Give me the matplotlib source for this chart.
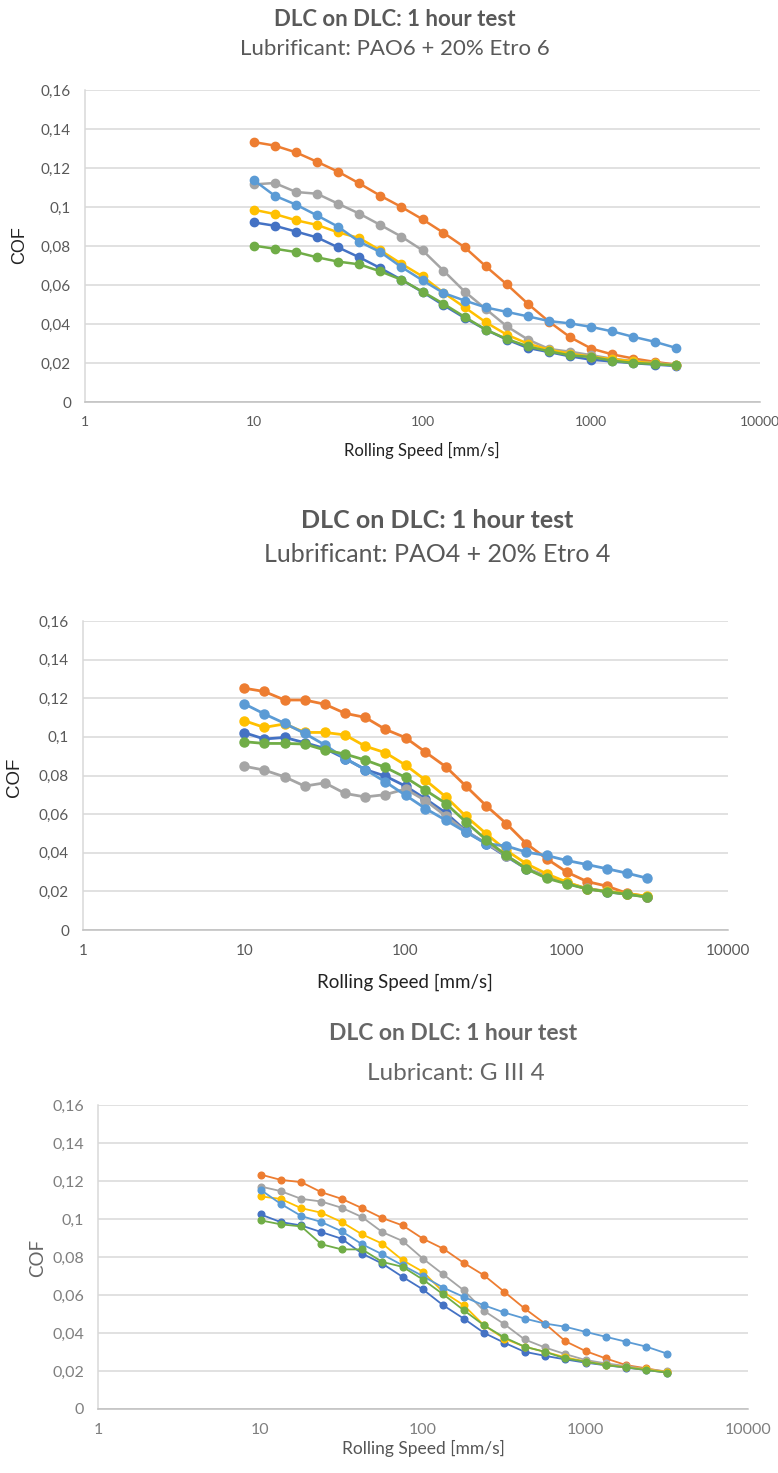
import matplotlib.pyplot as plt
from matplotlib.ticker import FixedLocator, FuncFormatter, NullLocator

# rolling speed [mm/s], same steps in all three tests
speed = [10, 13.3, 17.8, 23.7, 31.6, 42.2, 56.2, 75.0, 100, 133, 178, 237,
         316, 422, 562, 750, 1000, 1334, 1778, 2371, 3162]

# PAO6 + 20% Etro 6
pao6_s1 = [0.0921, 0.0904, 0.0874, 0.0844, 0.0793, 0.0742, 0.0687, 0.0627, 0.0564, 0.0497, 0.0431,
           0.0371, 0.0320, 0.0277, 0.0256, 0.0234, 0.0217, 0.0208, 0.0199, 0.0192, 0.0185]
pao6_s2 = [0.1333, 0.1315, 0.1280, 0.1232, 0.1181, 0.1121, 0.1058, 0.1000, 0.0937, 0.0868, 0.0793,
           0.0696, 0.0603, 0.0503, 0.0412, 0.0332, 0.0274, 0.0244, 0.0223, 0.0206, 0.0192]
pao6_s3 = [0.1116, 0.1123, 0.1077, 0.1068, 0.1017, 0.0966, 0.0908, 0.0848, 0.0778, 0.0674, 0.0566,
           0.0477, 0.0388, 0.0320, 0.0272, 0.0258, 0.0240, 0.0222, 0.0210, 0.0200, 0.0190]
pao6_s4 = [0.0986, 0.0964, 0.0932, 0.0908, 0.0870, 0.0841, 0.0778, 0.0709, 0.0644, 0.0561, 0.0485,
           0.0409, 0.0345, 0.0299, 0.0268, 0.0248, 0.0232, 0.0220, 0.0208, 0.0198, 0.0188]
pao6_s5 = [0.1138, 0.1058, 0.1012, 0.0957, 0.0899, 0.0822, 0.0769, 0.0692, 0.0624, 0.0559, 0.0520,
           0.0485, 0.0462, 0.0439, 0.0415, 0.0403, 0.0385, 0.0362, 0.0334, 0.0309, 0.0278]
pao6_s6 = [0.0802, 0.0786, 0.0769, 0.0742, 0.0720, 0.0706, 0.0670, 0.0627, 0.0566, 0.0504, 0.0436,
           0.0371, 0.0323, 0.0285, 0.0260, 0.0239, 0.0231, 0.0212, 0.0200, 0.0195, 0.0188]

# PAO4 + 20% Etro 4
pao4_s1 = [0.1022, 0.0989, 0.0997, 0.0970, 0.0940, 0.0888, 0.0831, 0.0797, 0.0745, 0.0679, 0.0606,
           0.0513, 0.0447, 0.0381, 0.0317, 0.0274, 0.0242, 0.0213, 0.0198, 0.0185, 0.0172]
pao4_s2 = [0.1252, 0.1235, 0.1191, 0.1191, 0.1169, 0.1122, 0.1101, 0.1039, 0.0996, 0.0921, 0.0845,
           0.0745, 0.0644, 0.0551, 0.0447, 0.0369, 0.0300, 0.0251, 0.0227, 0.0190, 0.0173]
pao4_s3 = [0.0848, 0.0828, 0.0793, 0.0745, 0.0762, 0.0707, 0.0689, 0.0701, 0.0730, 0.0670, 0.0590,
           0.0510, 0.0450, 0.0385, 0.0320, 0.0278, 0.0245, 0.0215, 0.0200, 0.0186, 0.0172]
pao4_s4 = [0.1084, 0.1049, 0.1067, 0.1023, 0.1023, 0.1010, 0.0952, 0.0918, 0.0854, 0.0776, 0.0689,
           0.0589, 0.0499, 0.0412, 0.0343, 0.0291, 0.0248, 0.0213, 0.0200, 0.0188, 0.0175]
pao4_s5 = [0.1171, 0.1119, 0.1070, 0.1018, 0.0958, 0.0888, 0.0831, 0.0767, 0.0698, 0.0629, 0.0568,
           0.0507, 0.0447, 0.0435, 0.0403, 0.0386, 0.0360, 0.0339, 0.0317, 0.0294, 0.0268]
pao4_s6 = [0.0975, 0.0966, 0.0966, 0.0963, 0.0932, 0.0911, 0.0880, 0.0842, 0.0790, 0.0724, 0.0655,
           0.0559, 0.0468, 0.0386, 0.0317, 0.0268, 0.0239, 0.0213, 0.0198, 0.0185, 0.0170]

# G III 4
g3_s1 = [0.1024, 0.0984, 0.0966, 0.0931, 0.0896, 0.0818, 0.0765, 0.0695, 0.0629, 0.0546, 0.0476,
         0.0401, 0.0349, 0.0301, 0.0280, 0.0261, 0.0244, 0.0230, 0.0218, 0.0205, 0.0192]
g3_s2 = [0.1234, 0.1206, 0.1194, 0.1141, 0.1106, 0.1057, 0.1005, 0.0966, 0.0896, 0.0844, 0.0769,
         0.0704, 0.0617, 0.0529, 0.0450, 0.0357, 0.0305, 0.0266, 0.0231, 0.0214, 0.0195]
g3_s3 = [0.1171, 0.1147, 0.1106, 0.1092, 0.1059, 0.1010, 0.0931, 0.0884, 0.0791, 0.0709, 0.0625,
         0.0517, 0.0447, 0.0366, 0.0324, 0.0289, 0.0258, 0.0240, 0.0226, 0.0210, 0.0198]
g3_s4 = [0.1119, 0.1106, 0.1057, 0.1033, 0.0984, 0.0919, 0.0870, 0.0783, 0.0722, 0.0616, 0.0546,
         0.0441, 0.0371, 0.0328, 0.0301, 0.0272, 0.0250, 0.0232, 0.0220, 0.0208, 0.0195]
g3_s5 = [0.1154, 0.1080, 0.1016, 0.0984, 0.0935, 0.0867, 0.0814, 0.0756, 0.0699, 0.0639, 0.0590,
         0.0546, 0.0508, 0.0476, 0.0450, 0.0433, 0.0406, 0.0380, 0.0354, 0.0328, 0.0292]
g3_s6 = [0.0993, 0.0972, 0.0961, 0.0867, 0.0840, 0.0840, 0.0774, 0.0748, 0.0681, 0.0604, 0.0520,
         0.0441, 0.0377, 0.0328, 0.0301, 0.0266, 0.0249, 0.0231, 0.0219, 0.0205, 0.0192]

y_ticks = [0, 0.02, 0.04, 0.06, 0.08, 0.1, 0.12, 0.14, 0.16]
x_ticks = [1, 10, 100, 1000, 10000]

# excel default palette
colors = ['#4472C4', '#ED7D31', '#A5A5A5', '#FFC000', '#5B9BD5', '#70AD47']

FONT = 'Lato'
GREY = '#595959'

fig = plt.figure(figsize=(7.78, 14.73), dpi=100)


def comma(v, pos):
    if v == 0:
        return '0'
    s = ('%.2f' % v).rstrip('0')
    return s.replace('.', ',')


def draw_panel(rect, series, lw, ms, tick_fs, tick_col=GREY, xtick_fs=None):
    ax = fig.add_axes(rect)
    for vals, c in zip(series, colors):
        ax.plot(speed, vals, color=c, lw=lw, marker='o', ms=ms, mec=c, mfc=c)
    ax.set_xscale('log')
    ax.set_xlim(1, 10000)
    ax.set_ylim(0, 0.16)
    ax.xaxis.set_major_locator(FixedLocator(x_ticks))
    ax.xaxis.set_minor_locator(NullLocator())
    ax.xaxis.set_major_formatter(FuncFormatter(lambda v, p: '%d' % v))
    ax.yaxis.set_major_locator(FixedLocator(y_ticks))
    ax.yaxis.set_major_formatter(FuncFormatter(comma))
    ax.grid(axis='y', color='#D9D9D9', lw=1.1)
    ax.set_axisbelow(True)
    for s in ['top', 'right']:
        ax.spines[s].set_visible(False)
    ax.spines['left'].set_color('#D9D9D9')
    ax.spines['left'].set_linewidth(1.1)
    ax.spines['bottom'].set_color('#BFBFBF')
    ax.spines['bottom'].set_linewidth(1.1)
    ax.tick_params(length=0, labelsize=tick_fs, labelcolor=tick_col, pad=10)
    if xtick_fs:
        ax.tick_params(axis='x', labelsize=xtick_fs)
    for t in ax.get_xticklabels() + ax.get_yticklabels():
        t.set_family(FONT)
    return ax


def H(y):
    return 1 - y / 1473.0


def W(x):
    return x / 778.0


# panel 1
draw_panel([W(85), H(402), W(675), H(90) - H(402)],
           [pao6_s1, pao6_s2, pao6_s3, pao6_s4, pao6_s5, pao6_s6], 1.8, 6, 11, xtick_fs=10)
fig.text(W(395), H(19), 'DLC on DLC: 1 hour test', ha='center', va='center',
         fontsize=16, fontweight='bold', color=GREY, family=FONT)
fig.text(W(395), H(49), 'Lubrificant: PAO6 + 20% Etro 6', ha='center', va='center',
         fontsize=16, color=GREY, family=FONT)
fig.text(W(422), H(450), 'Rolling Speed [mm/s]', ha='center', va='center',
         fontsize=12, color='#222222', family=FONT)
fig.text(W(20), H(245), 'COF', ha='center', va='center', rotation=90,
         fontsize=13, color='#222222', family='Liberation Sans')

# panel 2
draw_panel([W(83), H(930), W(645), H(621) - H(930)],
           [pao4_s1, pao4_s2, pao4_s3, pao4_s4, pao4_s5, pao4_s6], 2.0, 6.5, 11)
fig.text(W(437), H(521), 'DLC on DLC: 1 hour test', ha='center', va='center',
         fontsize=18, fontweight='bold', color=GREY, family=FONT)
fig.text(W(437), H(554), 'Lubrificant: PAO4 + 20% Etro 4', ha='center', va='center',
         fontsize=18, color=GREY, family=FONT)
fig.text(W(405), H(982), 'Rolling Speed [mm/s]', ha='center', va='center',
         fontsize=13.5, color='#222222', family=FONT)
fig.text(W(15), H(777), 'COF', ha='center', va='center', rotation=90,
         fontsize=13.5, color='#222222', family='Liberation Sans')

# panel 3
draw_panel([W(98), H(1409), W(650), H(1105) - H(1409)],
           [g3_s1, g3_s2, g3_s3, g3_s4, g3_s5, g3_s6], 1.3, 4.8, 11.5, '#7F7F7F')
fig.text(W(453), H(1034), 'DLC on DLC: 1 hour test', ha='center', va='center',
         fontsize=16.5, fontweight='bold', color='#666666', family=FONT)
fig.text(W(456), H(1074), 'Lubricant: G III 4', ha='center', va='center',
         fontsize=17.5, color='#666666', family=FONT)
fig.text(W(423), H(1448), 'Rolling Speed [mm/s]', ha='center', va='center',
         fontsize=12.5, color='#555555', family=FONT)
fig.text(W(38), H(1258), 'COF', ha='center', va='center', rotation=90,
         fontsize=13.5, color='#666666', family=FONT)

fig.savefig('out.png', dpi=100)
